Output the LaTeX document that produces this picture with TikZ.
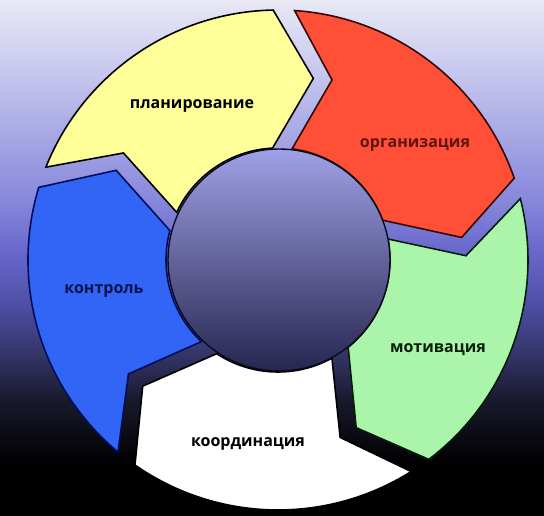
\documentclass[tikz,border=0pt]{standalone}
\usepackage{fontspec}
\newfontfamily\lblfont{Open Sans}
\usetikzlibrary{calc}
\definecolor{bgA}{RGB}{232,232,245}
\definecolor{bgB}{RGB}{205,205,240}
\definecolor{bgC}{RGB}{170,170,230}
\definecolor{bgD}{RGB}{135,135,220}
\definecolor{bgE}{RGB}{105,105,205}
\definecolor{bgF}{RGB}{80,80,170}
\definecolor{bgG}{RGB}{55,55,110}
\definecolor{bgH}{RGB}{25,25,45}
\definecolor{bgI}{RGB}{5,5,10}
\definecolor{segyellow}{RGB}{255,255,153}
\definecolor{segred}{RGB}{255,80,55}
\definecolor{seggreen}{RGB}{170,245,170}
\definecolor{segblue}{RGB}{50,100,245}
\definecolor{redline}{RGB}{50,8,8}
\definecolor{greenline}{RGB}{5,30,10}
\definecolor{blueline}{RGB}{0,15,90}
\definecolor{circTop}{RGB}{160,160,230}
\definecolor{circMid}{RGB}{100,100,200}
\definecolor{circBot}{RGB}{38,38,80}
\definecolor{circLine}{RGB}{10,10,30}
\definecolor{redtext}{RGB}{95,20,20}
\definecolor{bluetext}{RGB}{10,20,80}
\definecolor{greentext}{RGB}{10,30,10}
\pgfdeclareverticalshading{bgshade}{100bp}{color(0bp)=(black); color(29.5bp)=(black); color(31.4bp)=(bgI); color(36.2bp)=(bgH); color(41.1bp)=(bgG); color(45.9bp)=(bgF); color(50.8bp)=(bgE); color(55.6bp)=(bgD); color(62.4bp)=(bgC); color(69.2bp)=(bgB); color(75bp)=(bgA); color(100bp)=(bgA)}
\begin{document}
\begin{tikzpicture}[x=1pt,y=1pt,
  seg/.style={line width=1.6pt, line join=miter},
  lbl/.style={inner sep=0pt, anchor=base, font=\lblfont\bfseries\fontsize{16}{19}\selectfont}]
\useasboundingbox (0,0) rectangle (544,516);
\shade[shading=bgshade] (0,0) rectangle (544,516);
\coordinate (C) at (278,256);
\foreach \r/\f/\d in {0/segyellow/black, -72/segred/redline, -144/seggreen/greenline, -216/white/black, -288/segblue/blueline} {
  \begin{scope}[shift={(C)}, rotate=\r]
    \filldraw[seg, fill=\f, draw=\d] (158.2:250) arc[start angle=158.2, end angle=91.1, radius=250]
      -- (79:185) -- (92.8:112) arc[start angle=92.8, end angle=154.8, radius=112]
      -- (145.3:188) -- cycle;
  \end{scope}
}
\shadedraw[top color=circTop, middle color=circMid, bottom color=circBot, draw=circLine, line width=1.4pt] (279,256) circle[radius=111];
\node[lbl, text=black] (plan) at (192,407) {планирование};
\node[lbl, text=redtext] (org) at (415,368) {организация};
\node[lbl, text=bluetext] (ctrl) at (104,222) {контроль};
\node[lbl, text=greentext] (motiv) at (438,163) {мотивация};
\node[lbl, text=black] (coord) at (248,69) {координация};
\end{tikzpicture}
\end{document}
